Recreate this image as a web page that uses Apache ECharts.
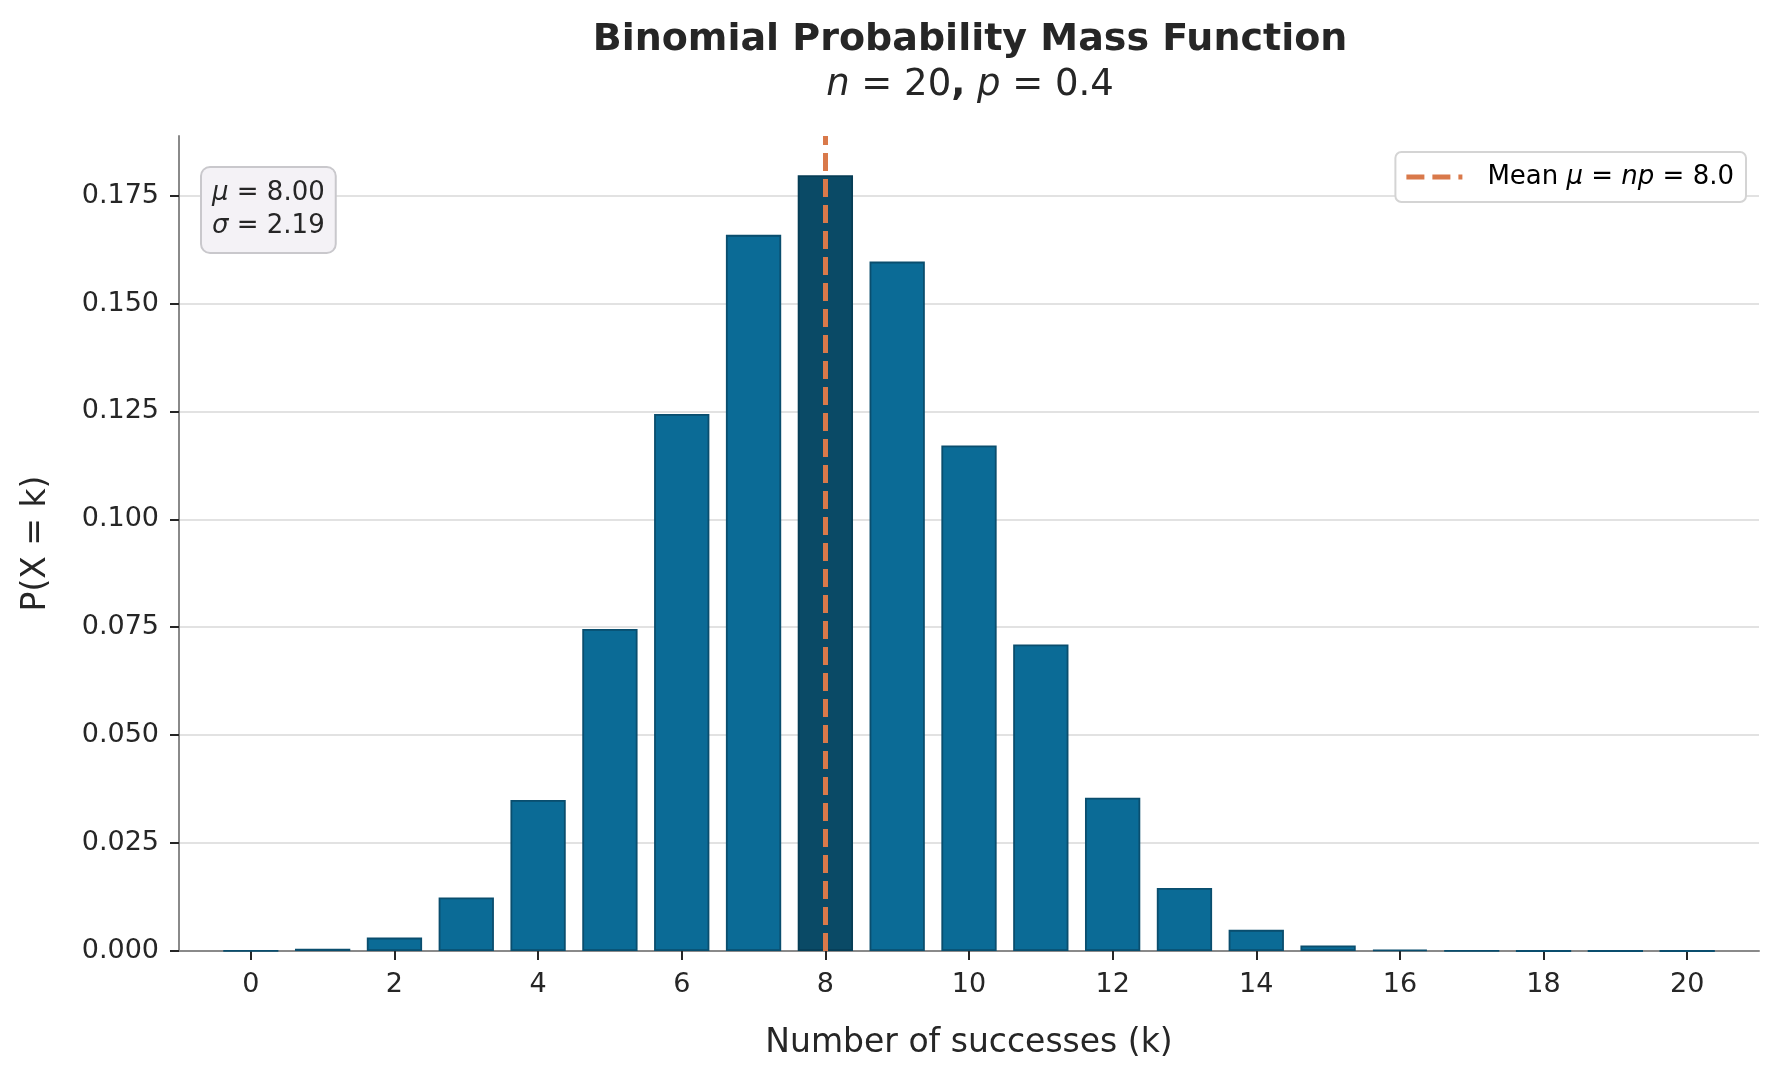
<!DOCTYPE html>
<html>
<head>
<meta charset="utf-8">
<script src="https://cdn.jsdelivr.net/npm/echarts@6/dist/echarts.min.js"></script>
<style>
  html, body { margin: 0; padding: 0; background: #fff; }
  #chart { width: 1779px; height: 1080px; }
</style>
</head>
<body>
<div id="chart"></div>
<script>
// number of successes k = 0..20
const kValues = [0, 1, 2, 3, 4, 5, 6, 7, 8, 9, 10, 11, 12, 13, 14, 15, 16, 17, 18, 19, 20];
// P(X = k)
const pmfValues = [
  0.00004, 0.0005, 0.0031, 0.0124, 0.0350, 0.0746, 0.1244, 0.1659, 0.1797,
  0.1597, 0.1171, 0.0710, 0.0355, 0.0146, 0.0049, 0.0013, 0.0003, 0.00004,
  0.000005, 0.0000003, 0.00000001
];
const meanK = 8;
const yTicks = [0, 0.025, 0.05, 0.075, 0.1, 0.125, 0.15, 0.175];
const yMax = 0.1888;

const FONT = 'DejaVu Sans';
const INK = '#262626';
const BAR = '#0b6b96';
const BAR_EDGE = '#0a4e6e';
const BAR_MEAN = '#0a4a66';
const BAR_MEAN_EDGE = '#063d55';
const MEAN_LINE = '#d9794a';

// pad the axis one step each side so it runs from -1 to 21
const categories = ['-1'].concat(kValues.map(String), ['21']);
const barData = [null].concat(pmfValues.map(function (v, i) {
  if (kValues[i] === meanK) {
    return { value: v, itemStyle: { color: BAR_MEAN, borderColor: BAR_MEAN_EDGE } };
  }
  return v;
}), [null]);

const showEven = function (index, value) {
  const k = Number(value);
  return k >= 0 && k <= 20 && k % 2 === 0;
};

const legendName = 'Mean μ = np = 8.0';
// dashed legend key: two dashes and a short stub
const dashIcon = 'path://M0,0H18V5H0Z M26,0H44V5H26Z M52,0H56V5H52Z';

const option = {
  animation: false,
  textStyle: { fontFamily: FONT, color: INK },
  grid: { left: 179, right: 20, top: 136, bottom: 129, containLabel: false },
  graphic: [
    {
      type: 'text',
      x: 970,
      y: 40,
      style: {
        text: 'Binomial Probability Mass Function',
        fontFamily: FONT,
        fontSize: 38,
        fontWeight: 'bold',
        fill: INK,
        align: 'center',
        verticalAlign: 'middle'
      }
    },
    {
      type: 'text',
      x: 970,
      y: 85,
      style: {
        text: '{i|n}{r| = 20}{b|,} {i|p}{r| = 0.4}',
        fontFamily: FONT,
        fontSize: 37,
        fill: INK,
        align: 'center',
        verticalAlign: 'middle',
        rich: {
          i: { fontFamily: FONT, fontSize: 37, fontStyle: 'italic', fill: INK },
          r: { fontFamily: FONT, fontSize: 37, fill: INK },
          b: { fontFamily: FONT, fontSize: 37, fontWeight: 'bold', fill: INK }
        }
      }
    },
    {
      type: 'text',
      x: 202,
      y: 168,
      z: 10,
      style: {
        text: '{i|μ}{r| = 8.00}\n{i|σ}{r| = 2.19}',
        fontFamily: FONT,
        fontSize: 26,
        fill: INK,
        backgroundColor: '#f4f2f6',
        borderColor: '#c9c8cc',
        borderWidth: 2,
        borderRadius: 8,
        padding: [9, 10, 9, 10],
        lineHeight: 33,
        rich: {
          i: { fontFamily: FONT, fontSize: 26, fontStyle: 'italic', fill: INK, lineHeight: 33 },
          r: { fontFamily: FONT, fontSize: 26, fill: INK, lineHeight: 33 }
        }
      }
    }
  ],
  legend: {
    data: [{ name: legendName, icon: dashIcon }],
    right: 33,
    top: 152,
    orient: 'vertical',
    itemWidth: 56,
    itemHeight: 5,
    padding: [12, 12, 12, 11],
    backgroundColor: '#ffffff',
    borderColor: '#d4d4d4',
    borderWidth: 2,
    borderRadius: 6,
    itemStyle: { color: MEAN_LINE, borderWidth: 0 },
    formatter: function () {
      return '{r|Mean }{i|μ}{r| = }{i|np}{r| = 8.0}';
    },
    textStyle: {
      fontFamily: FONT,
      fontSize: 26,
      color: '#000',
      padding: [0, 0, 0, 20],
      rich: {
        r: { fontFamily: FONT, fontSize: 26, color: '#000' },
        i: { fontFamily: FONT, fontSize: 26, fontStyle: 'italic', color: '#000' }
      }
    }
  },
  xAxis: {
    type: 'category',
    data: categories,
    boundaryGap: false,
    name: 'Number of successes (k)',
    nameLocation: 'middle',
    nameGap: 76,
    nameTextStyle: { fontFamily: FONT, fontSize: 33, color: INK },
    axisLine: { show: true, lineStyle: { color: '#8a8a8a', width: 2 } },
    axisTick: { show: true, interval: showEven, length: 9, lineStyle: { color: INK, width: 2 } },
    axisLabel: { interval: showEven, fontFamily: FONT, fontSize: 27, color: INK, margin: 20 },
    splitLine: { show: false }
  },
  yAxis: {
    type: 'value',
    min: 0,
    max: yMax,
    interval: 0.025,
    name: 'P(X = k)',
    nameLocation: 'middle',
    nameGap: 126,
    nameTextStyle: { fontFamily: FONT, fontSize: 33, color: INK },
    axisLine: { show: true, lineStyle: { color: '#8a8a8a', width: 2 } },
    axisTick: { show: true, length: 9, lineStyle: { color: INK, width: 2 } },
    axisLabel: {
      fontFamily: FONT,
      fontSize: 27,
      color: INK,
      margin: 20,
      showMaxLabel: false,
      formatter: function (v) {
        const hit = yTicks.some(function (t) { return Math.abs(t - v) < 1e-9; });
        return hit ? v.toFixed(3) : '';
      }
    },
    splitLine: { show: true, showMaxLine: false, lineStyle: { color: '#d9d9d9', width: 1.5 } }
  },
  series: [
    {
      type: 'bar',
      name: 'P(X = k)',
      data: barData,
      barWidth: '77%',
      itemStyle: { color: BAR, borderColor: BAR_EDGE, borderWidth: 1.8 },
      markLine: {
        silent: true,
        symbol: ['none', 'none'],
        label: { show: false },
        lineStyle: { color: MEAN_LINE, width: 5, type: [18, 8] },
        data: [{ xAxis: String(meanK) }]
      },
      z: 2
    },
    {
      type: 'line',
      name: legendName,
      data: [],
      symbol: 'none',
      lineStyle: { color: MEAN_LINE, width: 5, type: [18, 8] },
      itemStyle: { color: MEAN_LINE }
    }
  ]
};

const chart = echarts.init(document.getElementById('chart'));
chart.setOption(option);
</script>
</body>
</html>
